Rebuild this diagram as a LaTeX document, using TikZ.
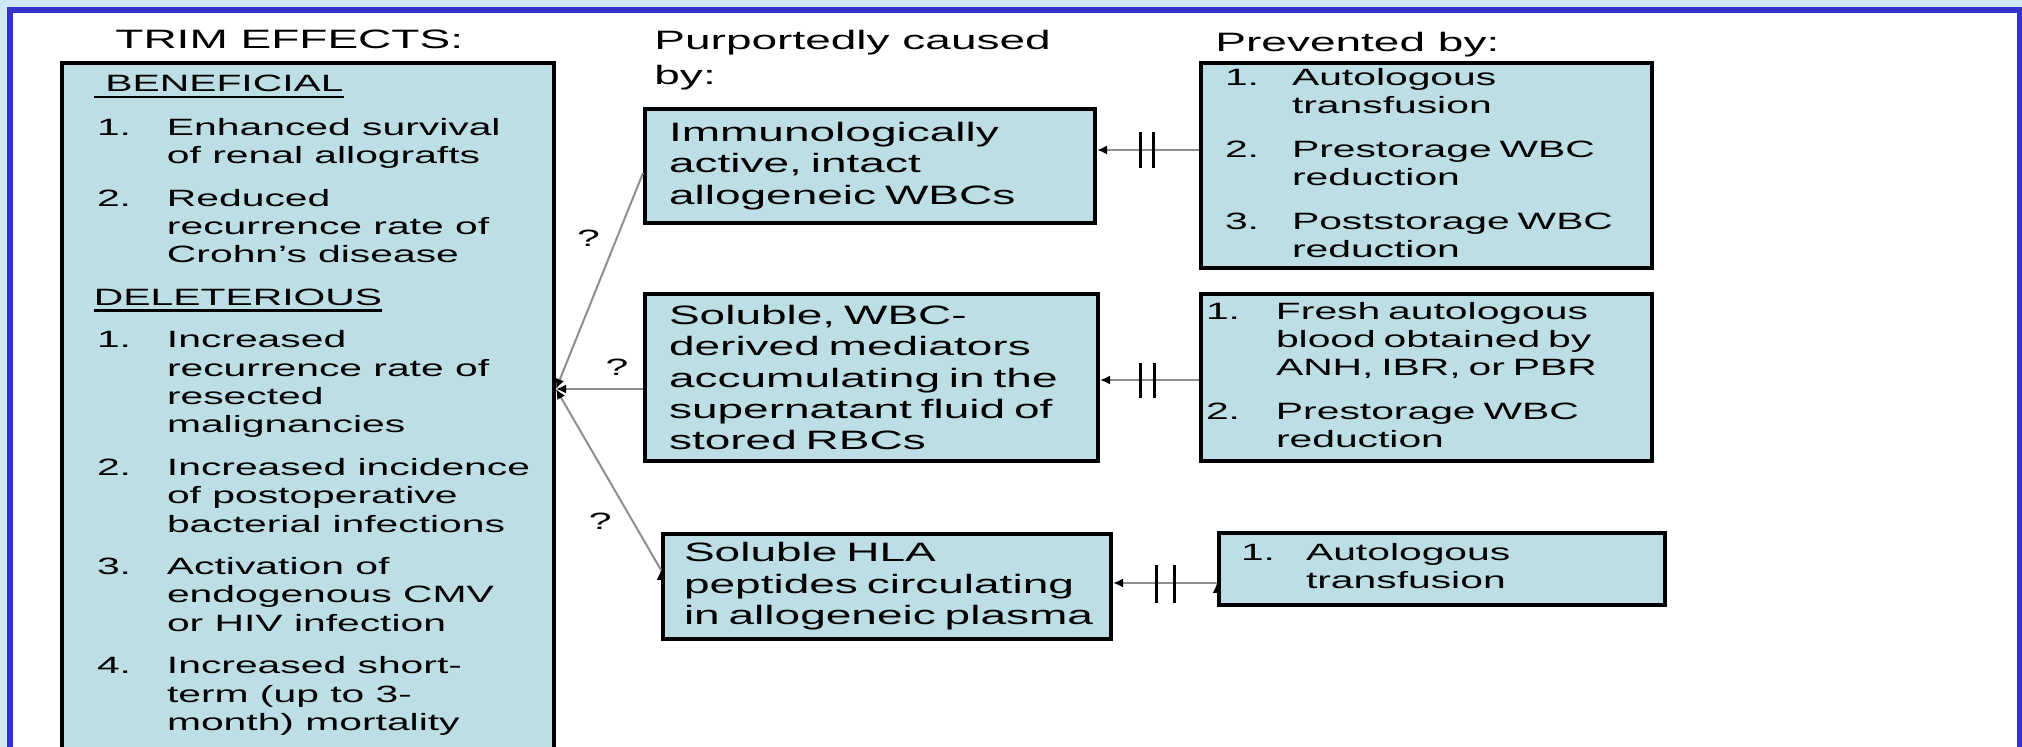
\documentclass[tikz,border=0pt]{standalone}
\usepackage{fontspec}
\setmainfont{Liberation Sans}[FakeStretch=1.73]
\usetikzlibrary{arrows.meta,positioning}

\definecolor{boxfill}{HTML}{BCDEE4}
\definecolor{framebg}{HTML}{CFE9FB}
\definecolor{frameblue}{HTML}{3434CC}
\definecolor{linkgray}{HTML}{8E8E8E}

\newcommand{\ulhead}[1]{\setbox0\hbox{#1}\rlap{\rule[-3.2pt]{\wd0}{1.3pt}}\box0}

\begin{document}
\begin{tikzpicture}[x=0.5pt,y=-0.5pt,
    heading/.style={inner sep=0pt,font=\fontsize{13.3}{17.5}\selectfont},
    box/.style={draw,line width=2pt,fill=boxfill,anchor=north west},
    cause/.style={box,inner xsep=12pt,inner ysep=1pt,align=left,
      font=\fontsize{13.3}{15.7}\selectfont},
    prevent/.style={box,inner ysep=1pt,align=left,
      font=\fontsize{11.8}{14}\selectfont},
    link/.style={draw=linkgray,line width=1pt,-{Latex[length=5pt,width=4.5pt,color=black]}},
    bar/.style={line width=1.5pt},
    qmark/.style={inner sep=1pt,font=\fontsize{11.8}{14}\selectfont}]
  \useasboundingbox (0,0) rectangle (2022,747);
  \clip (0,0) rectangle (2022,747);
  \fill[framebg] (0,0) rectangle (2022,747);
  \draw[frameblue,line width=3pt,fill=white] (10,10) rectangle (2020,800);

  % column headings
  \node[heading,anchor=base west] (h_eff) at (115,48.5) {TRIM EFFECTS:};
  \node[heading,anchor=base west,align=left] (h_cause) at (654,84.5) {Purportedly caused\\by:};
  \node[heading,anchor=base west] (h_prev) at (1215,51.5) {Prevented by:};

  % effects
  \node[box,inner xsep=16pt,inner ysep=4.5pt] (eff) at (60,61) {\parbox[c][350pt][t]{214pt}{%
    \fontsize{11.8}{14.2}\selectfont
    \begin{tabular}[t]{@{\hspace{1.5pt}}p{35pt}@{}l@{}}
      \multicolumn{2}{@{}l@{}}{\ulhead{\ BENEFICIAL}}\\[7.5pt]
      1. & Enhanced survival\\
         & of renal allografts\\[7pt]
      2. & Reduced\\
         & recurrence rate of\\
         & Crohn's disease\\[7pt]
      \multicolumn{2}{@{}l@{}}{\ulhead{DELETERIOUS}}\\[7pt]
      1. & Increased\\
         & recurrence rate of\\
         & resected\\
         & malignancies\\[7pt]
      2. & Increased incidence\\
         & of postoperative\\
         & bacterial infections\\[7pt]
      3. & Activation of\\
         & endogenous CMV\\
         & or HIV infection\\[7pt]
      4. & Increased short-\\
         & term (up to 3-\\
         & month) mortality
    \end{tabular}}};

  % causes
  \node[cause,text width=201pt,minimum height=57pt] (c_1) at (643,107)
    {Immunologically\\active, intact\\allogeneic WBCs};
  \node[cause,text width=202.5pt,minimum height=83.5pt] (c_2) at (643,292)
    {Soluble, WBC-\\derived mediators\\accumulating in the\\supernatant fluid of\\stored RBCs};
  \node[cause,inner xsep=10.5pt,text width=203pt,minimum height=52.5pt] (c_3) at (661,532)
    {Soluble HLA\\peptides circulating\\\mbox{in allogeneic plasma}};

  % preventions
  \node[prevent,inner xsep=12pt,text width=201.5pt,minimum height=102.5pt] (p_1) at (1199,61)
    {\begin{tabular}{@{}p{33.5pt}@{}l@{}}
      1. & Autologous\\
         & transfusion\\[8pt]
      2. & Prestorage WBC\\
         & reduction\\[8pt]
      3. & Poststorage WBC\\
         & reduction
    \end{tabular}};
  \node[prevent,inner xsep=2.5pt,text width=220.5pt,minimum height=83.5pt] (p_2) at (1199,292)
    {\begin{tabular}{@{}p{35pt}@{}l@{}}
      1. & Fresh autologous\\
         & blood obtained by\\
         & ANH, IBR, or PBR\\[8pt]
      2. & Prestorage WBC\\
         & reduction
    \end{tabular}};
  \node[prevent,inner xsep=11pt,text width=201pt,minimum height=36pt] (p_3) at (1217,531)
    {\begin{tabular}{@{}p{32.5pt}@{}l@{}}
      1. & Autologous\\
         & transfusion
    \end{tabular}};

  \coordinate (j) at (556,389);
  \path[link]
    (c_1.west |- 0,173) edge node[qmark,pos=0.3,left=7pt] {?} (j)
    (c_2.west |- j) edge node[qmark,pos=0.3,above=5pt] {?} (j)
    (c_3.west |- 0,570) edge node[qmark,pos=0.27,left=9pt] {?} (j);
  \path[link]
    (p_1.west |- 0,150) edge (c_1.east |- 0,150)
    (p_2.west |- 0,380) edge (c_2.east |- 0,380)
    (p_3.west |- 0,583) edge (c_3.east |- 0,583);
  \draw[bar] (1140,132) -- (1140,168) (1153,132) -- (1153,168)
    (1140,363) -- (1140,398) (1154,363) -- (1154,398)
    (1156,565) -- (1156,603) (1174,565) -- (1174,603);
\end{tikzpicture}
\end{document}
